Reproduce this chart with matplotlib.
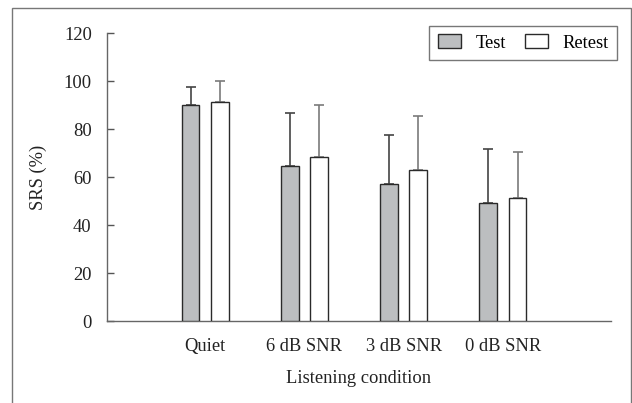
import matplotlib
matplotlib.use("Agg")
import matplotlib.pyplot as plt
from matplotlib.patches import Rectangle
import numpy as np

categories = ["Quiet", "6 dB SNR", "3 dB SNR", "0 dB SNR"]
test_mean = [90.0, 64.4, 57.0, 49.0]
test_sd = [7.5, 22.3, 20.4, 22.7]
retest_mean = [91.4, 68.3, 63.0, 51.4]
retest_sd = [8.6, 21.6, 22.3, 18.9]
yticks = [0, 20, 40, 60, 80, 100, 120]

plt.rcParams['font.family'] = ['Liberation Serif', 'DejaVu Serif']
FS = 13.3

fig = plt.figure(figsize=(6.32, 4.03), dpi=100)
ax = fig.add_axes([107/632, 1-321/403, (611-107)/632, (321-33)/403])

x = np.arange(len(categories))
w = 0.18
off = 0.148
ax.bar(x - off, test_mean, w, color='#bcbec0', edgecolor='#2a2a2a', linewidth=1.0,
       label='Test', zorder=3)
ax.bar(x + off, retest_mean, w, color='white', edgecolor='#2a2a2a', linewidth=1.0,
       label='Retest', zorder=3)
ax.errorbar(x - off, test_mean, yerr=[np.zeros(4), test_sd], fmt='none',
            ecolor='#444444', elinewidth=1.2, capsize=3.8, capthick=1.2, zorder=2)
ax.errorbar(x + off, retest_mean, yerr=[np.zeros(4), retest_sd], fmt='none',
            ecolor='#7a7a7a', elinewidth=1.2, capsize=3.8, capthick=1.2, zorder=2)

ax.set_xlim(-0.99, 4.09)
ax.set_ylim(0, 120)
ax.set_yticks(yticks)
ax.set_xticks(x)
ax.set_xticklabels(categories)
ax.tick_params(axis='x', length=0, pad=12, labelsize=FS, colors='#222222')
ax.tick_params(axis='y', direction='in', length=5, width=1, color='#555555',
               pad=11, labelsize=FS, labelcolor='#222222')
for s in ['top', 'right']:
    ax.spines[s].set_visible(False)
for s in ['left', 'bottom']:
    ax.spines[s].set_color('#666666')
    ax.spines[s].set_linewidth(1.0)

ax.set_ylabel('SRS (%)', fontsize=FS, color='#222222', labelpad=12)
ax.set_xlabel('Listening condition', fontsize=FS, color='#222222', labelpad=11)

leg = ax.legend(ncol=2, loc='upper right', bbox_to_anchor=(1.012, 1.025),
                borderaxespad=0, frameon=True,
                fancybox=False, edgecolor='#555555', fontsize=FS,
                handlelength=1.25, handleheight=0.8, columnspacing=1.0,
                handletextpad=0.8, borderpad=0.45)
leg.get_frame().set_linewidth(1.0)

fig.patches.append(Rectangle((12/632, -0.05), (631-12)/632, 1-8/403+0.05,
                             transform=fig.transFigure, fill=False,
                             edgecolor='#777777', linewidth=1.0))

fig.savefig('out.png', dpi=100)
